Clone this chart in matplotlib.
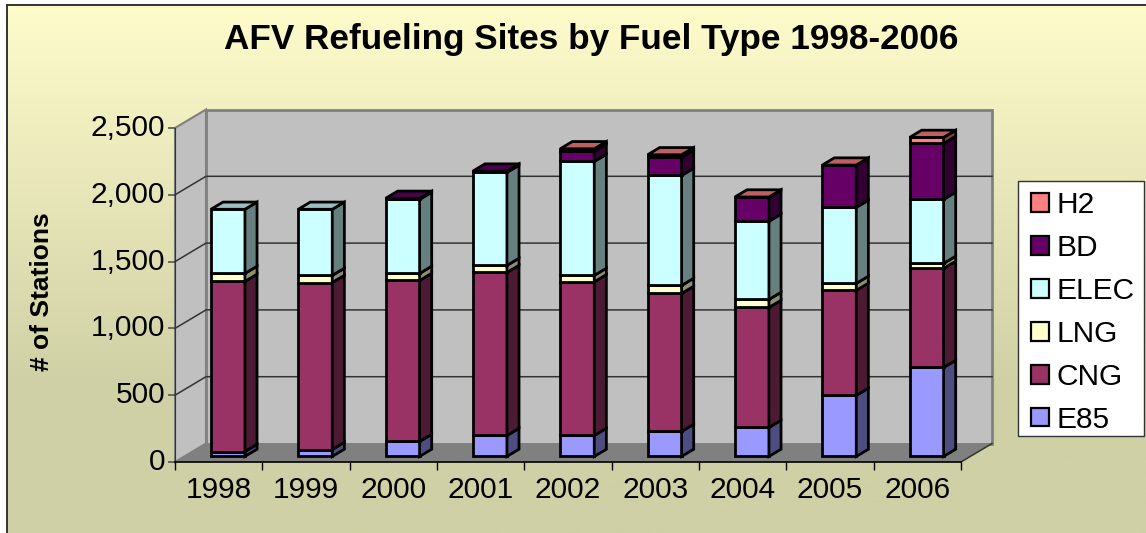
#!/usr/bin/env python3
"""
AFV refueling sites - stacked bars with a fake 3D look
"""

import numpy as np
import matplotlib
matplotlib.use('Agg')
import matplotlib.pyplot as plt
from matplotlib.patches import Patch, Polygon, Rectangle
from matplotlib.transforms import ScaledTranslation

years = ['1998', '1999', '2000', '2001', '2002', '2003', '2004', '2005', '2006']
fuel_names = ['E85', 'CNG', 'LNG', 'ELEC', 'BD', 'H2']

e85 = [37, 52, 112, 157, 157, 187, 217, 457, 666]
cng = [1273, 1250, 1205, 1220, 1150, 1033, 898, 786, 741]
lng = [60, 53, 53, 53, 48, 60, 60, 52, 38]
elec = [480, 495, 554, 696, 853, 823, 585, 569, 479]
bd = [0, 0, 8, 10, 75, 135, 179, 314, 419]
h2 = [0, 0, 0, 0, 20, 20, 3, 3, 45]
fuel_values = [e85, cng, lng, elec, bd, h2]

face_colors = ['#9999FF', '#993366', '#FFFFCC', '#CCFFFF', '#660066', '#FF8080']
side_colors = ['#4D4D80', '#4D1A33', '#8E8E72', '#668080', '#330033', '#804040']
top_colors = ['#7373BF', '#732650', '#BFBF99', '#99BFBF', '#4D004D', '#BF6060']

y_ticks = [0, 500, 1000, 1500, 2000, 2500]

W, H = 1146, 533
PX_X = 786 / 9       # pixels per category
PX_Y = 334 / 2500    # pixels per station
DX = 31 / PX_X       # depth of the box in data units
DY = 18.5 / PX_Y
BAR_W = 34 / PX_X
BAR_X = 0.305        # bar front, from the left of the category
BAR_D0 = 0.3         # bar sits between these depth fractions
BAR_D1 = 0.69

plt.rcParams['font.family'] = ['Liberation Sans', 'DejaVu Sans']

fig = plt.figure(figsize=(W / 100, H / 100), dpi=100, facecolor='white')

# background gradient and the two border lines
bg = fig.add_axes([7 / W, 0, 1 - 7 / W, 1 - 5 / H], zorder=0)
top_col = np.array([254, 252, 203]) / 255
bot_col = np.array([208, 208, 166]) / 255
t = np.clip(np.linspace(0, 1, 300) / 0.72, 0, 1)[:, None, None]
bg.imshow(top_col + (bot_col - top_col) * t, aspect='auto', extent=[0, 1, 0, 1])
bg.set_xticks([])
bg.set_yticks([])
for s in ['right', 'bottom']:
    bg.spines[s].set_visible(False)
for s in ['left', 'top']:
    bg.spines[s].set_color('#333333')
    bg.spines[s].set_linewidth(1.4)

ax = fig.add_axes([175 / W, 1 - 462 / H, 786 / W, 334 / H], zorder=1)
ax.patch.set_visible(False)
ax.set_xlim(0, 9)
ax.set_ylim(0, 2500)

# walls
y_max = y_ticks[-1]
ax.add_patch(Polygon([(0, 0), (DX, DY), (DX, y_max + DY), (0, y_max)], fc='#C0C0C0', ec='#808080', lw=1.5, clip_on=False, zorder=1))
ax.add_patch(Rectangle((DX, DY), 9, y_max, fc='#C0C0C0', ec='#808080', lw=2, clip_on=False, zorder=1))
ax.add_patch(Polygon([(0, 0), (9, 0), (9 + DX, DY), (DX, DY)], fc='#808080', ec='none', clip_on=False, zorder=1))
for v in y_ticks[1:-1]:
    ax.plot([0, DX, 9 + DX], [v, v + DY, v + DY], color='#333333', lw=1.1, clip_on=False, zorder=2)
ax.plot([9, 9 + DX], [0, DY], color='#333333', lw=1.1, clip_on=False, zorder=2)

# bars
for i in range(len(years)):
    x0 = i + BAR_X + BAR_D0 * DX
    x1 = x0 + BAR_W
    ox = (BAR_D1 - BAR_D0) * DX
    oy = (BAR_D1 - BAR_D0) * DY
    base = BAR_D0 * DY
    for k, vals in enumerate(fuel_values):
        v = vals[i]
        if v == 0:
            continue
        y0 = base
        y1 = base + v
        ax.add_patch(Rectangle((x0, y0), BAR_W, v, fc=face_colors[k], ec='black', lw=2.0, clip_on=False, zorder=3))
        ax.add_patch(Polygon([(x1, y0), (x1 + ox, y0 + oy), (x1 + ox, y1 + oy), (x1, y1)],
                             fc=side_colors[k], ec='black', lw=2.0, clip_on=False, zorder=3))
        base = y1
        top_k = k
    ax.add_patch(Polygon([(x0, base), (x1, base), (x1 + ox, base + oy), (x0 + ox, base + oy)],
                         fc=top_colors[top_k], ec='black', lw=2.0, clip_on=False, zorder=3))

# axes
for s in ['top', 'right']:
    ax.spines[s].set_visible(False)
ax.spines['left'].set_color('#333333')
ax.spines['bottom'].set_color('black')
ax.spines['bottom'].set_linewidth(1.2)
ax.spines['left'].set_zorder(2)
ax.spines['bottom'].set_zorder(2)
ax.set_yticks(y_ticks)
ax.set_yticklabels([f'{v:,}' for v in y_ticks])
ax.tick_params(axis='y', length=5, width=1.2, color='#555555', labelsize=21.5, pad=2)
ax.set_xticks(np.arange(0, 10))
ax.set_xticklabels([])
ax.tick_params(axis='x', which='major', length=6, width=1, color='black')
ax.set_xticks(np.arange(0.5, 9.5), minor=True)
ax.set_xticklabels(years, minor=True, fontsize=21.5)
ax.tick_params(axis='x', which='minor', length=0, pad=10)

# labels sit a little above their ticks in the original
up = ScaledTranslation(0, 3 / 100, fig.dpi_scale_trans)
for lab in ax.get_yticklabels():
    lab.set_transform(lab.get_transform() + up)

fig.text(591 / W, 1 - 39 / H, 'AFV Refueling Sites by Fuel Type 1998-2006', fontsize=25.3, fontweight='bold', ha='center', va='center')
fig.text(42 / W, 1 - 292 / H, '# of Stations', fontsize=19, fontweight='bold', rotation=90, ha='center', va='center')

# legend box is drawn apart so its height can match the original
fig.add_artist(Rectangle((1018 / W, 1 - 436 / H), 126 / W, 255 / H, transform=fig.transFigure,
                         fc='white', ec='#333333', lw=1, zorder=4))
handles = [Patch(fc=face_colors[k], ec='black', lw=1.6) for k in range(len(fuel_names))][::-1]
leg = fig.legend(handles, fuel_names[::-1], loc='upper left', bbox_to_anchor=(1021 / W, 1 - 181 / H),
                 fontsize=21.5, frameon=False,
                 handlelength=0.62, handleheight=0.6, handletextpad=0.25, labelspacing=0.5,
                 borderpad=0.33, borderaxespad=0)
leg.set_zorder(5)

plt.savefig('out.png', dpi=100)
